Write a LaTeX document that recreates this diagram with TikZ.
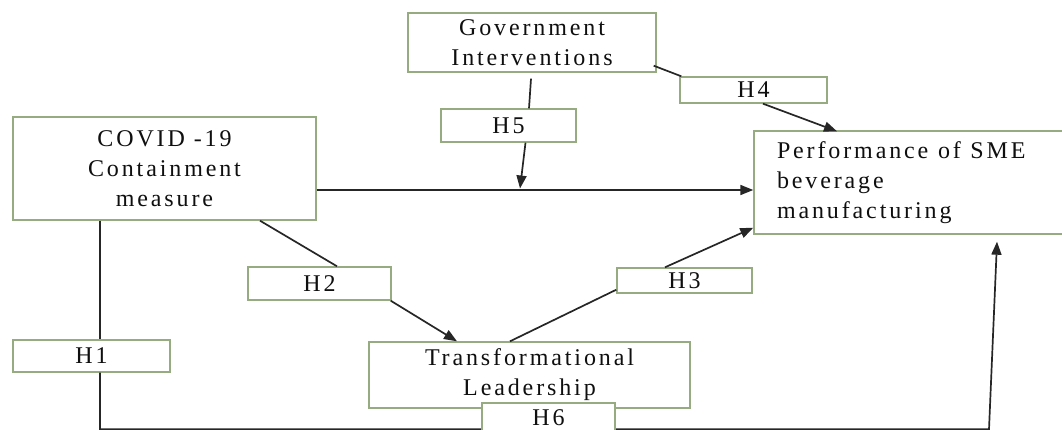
\documentclass[tikz,border=0pt]{standalone}
\usepackage{fontspec}
\setmainfont{Liberation Serif}[LetterSpace=12]
\usetikzlibrary{arrows.meta}
\definecolor{boxline}{RGB}{150,172,128}
\definecolor{ink}{RGB}{15,15,15}
\tikzset{
  box/.style={draw=boxline, line width=1.4pt, fill=white, inner sep=0pt,
              align=center, text=ink, font=\fontsize{24}{30}\selectfont},
  link/.style={draw=black!85, line width=1.7pt},
  arr/.style={link, -{Triangle[length=13pt,width=10pt]}}
}
\newcommand{\wsp}{\hspace{0.4em}}
\begin{document}
\begin{tikzpicture}[x=1pt, y=-1pt]
  \path[use as bounding box, clip] (0,0) rectangle (1062,430);

  % constructs
  \node[box, minimum width=248pt, minimum height=59pt] (gov) at (532,42.5)
    {Government\\Interventions};
  \node[box, minimum width=303pt, minimum height=103pt] (covid) at (164.5,168.5)
    {COVID -19\\Containment\\measure};
  \node[box, minimum width=316pt, minimum height=103pt, text width=270pt,
        align=left] (perf) at (912,182.5)
    {Performance\wsp of\wsp SME\\beverage\\manufacturing};
  \node[box, minimum width=321pt, minimum height=66pt] (trans) at (529.5,375)
    {Transformational\\Leadership};

  % hypothesis labels
  \node[box, minimum width=135pt, minimum height=33pt] (h5) at (508.5,125.5) {H5};
  \node[box, minimum width=147pt, minimum height=26pt] (h4) at (753.5,90) {H4};
  \node[box, minimum width=143pt, minimum height=33pt] (h2) at (319.5,283.5) {H2};
  \node[box, minimum width=135pt, minimum height=25pt] (h3) at (684.5,280.5) {H3};
  \node[box, minimum width=157pt, minimum height=32pt] (h1) at (91.5,356) {H1};

  % helper points
  \coordinate (mid) at (520,188.5);
  \coordinate (cornerL) at (100,429.3);
  \coordinate (cornerR) at (989,429.3);

  % paths
  \draw[arr] ([yshift=-21.5pt]covid.east) -- ([yshift=-7.5pt]perf.west);
  \draw[link] ([xshift=-1pt,yshift=-6pt]gov.south) -- ([xshift=20.5pt]h5.north);
  \draw[arr] ([xshift=17pt]h5.south) -- (mid);
  \draw[link] ([xshift=-3pt,yshift=7pt]gov.south east) -- ([xshift=2pt]h4.north west);
  \draw[arr] ([xshift=9.5pt]h4.south) -- ([xshift=-75pt,yshift=-1pt]perf.north);
  \draw[link] ([xshift=95.5pt]covid.south) -- ([xshift=17.5pt]h2.north);
  \draw[arr] ([xshift=-1pt]h2.south east) -- ([xshift=-72.5pt]trans.north);
  \draw[link] ([xshift=-19.5pt]trans.north) -- ([yshift=4pt]h3.south west);
  \draw[arr] ([xshift=-19.5pt]h3.north) -- ([yshift=7pt]perf.south west);
  \draw[link] ([xshift=-64.5pt]covid.south) -- ([xshift=8.5pt]h1.north);
  \draw[arr] ([xshift=8.5pt]h1.south) -- (cornerL) -- (cornerR)
    -- ([xshift=85pt,yshift=-7pt]perf.south);

  % label sitting on the lower path
  \node[box, minimum width=133pt, minimum height=30pt] (h6) at (548.5,418) {H6};
\end{tikzpicture}
\end{document}
